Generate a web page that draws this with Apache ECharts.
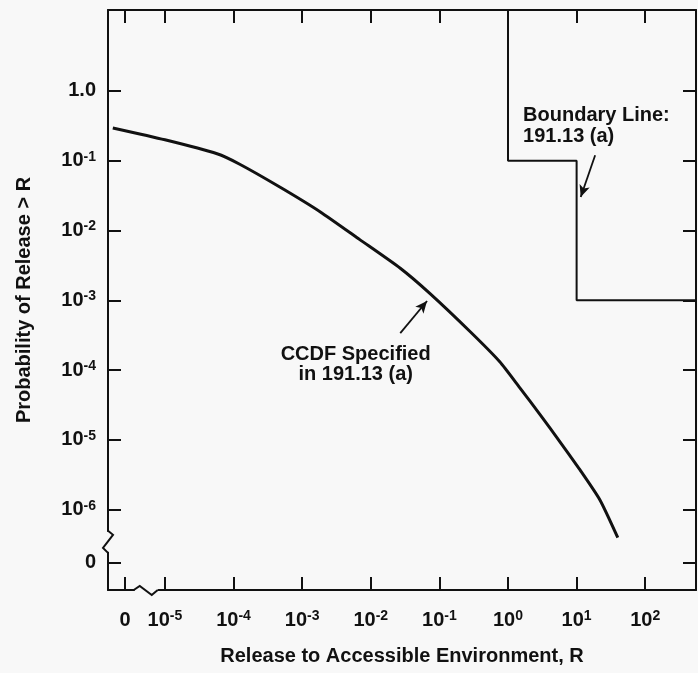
<!DOCTYPE html>
<html>
<head>
<meta charset="utf-8">
<script src="https://cdn.jsdelivr.net/npm/echarts@6/dist/echarts.min.js"></script>
<style>
  html, body { margin: 0; padding: 0; background: #f8f8f8; }
  #chart { width: 698px; height: 673px; }
</style>
</head>
<body>
<div id="chart"></div>
<script>
// CCDF curve (log10 R, log10 P)
const ccdfLogR = [-5.76, -5.00, -4.24, -3.91, -3.32, -2.74, -2.16, -1.57, -1.14, -0.55, -0.12, 0.17, 0.47, 0.76, 1.05, 1.34, 1.60]
const ccdfLogP = [-0.53, -0.70, -0.90, -1.05, -1.38, -1.73, -2.13, -2.54, -2.90, -3.45, -3.88, -4.25, -4.64, -5.03, -5.43, -5.86, -6.40]

// 191.13 (a) boundary line (real values, runs off the frame at the ends)
const boundaryR = [1, 1, 10, 10, 1000]
const boundaryP = [100, 0.1, 0.1, 0.001, 0.001]

// axes: decades shown, plus where the "0" of each broken axis sits
const xDecades = [-5, -4, -3, -2, -1, 0, 1, 2]
const yDecades = [0, -1, -2, -3, -4, -5, -6]
const xZeroPos = -5.58
const yZeroPos = -6.76
const xBreakPos = -5.28
const yBreakPos = -6.46

const xMin = -5.83, xMax = 2.74
const yMin = -7.15, yMax = 1.16

const FONT = '"Liberation Sans", Arial, sans-serif'
const INK = '#111'

const xTicks = [xZeroPos].concat(xDecades)
const yTicks = yDecades.concat([yZeroPos])

const rich = {
  n: { fontSize: 20, fontWeight: 'bold', fontFamily: FONT, color: INK, lineHeight: 22 },
  s: { fontSize: 14, fontWeight: 'bold', fontFamily: FONT, color: INK, verticalAlign: 'top', lineHeight: 14 }
}
const powLabel = v => '{n|10}{s|' + v + '}'

const lineSty = { color: INK, width: 2 }

const xAxisBase = {
  type: 'value', min: xMin, max: xMax,
  splitLine: { show: false },
  axisLine: { show: true, onZero: false, lineStyle: lineSty },
  axisTick: { show: true, inside: true, length: 13, customValues: xTicks, lineStyle: lineSty }
}
const yAxisBase = {
  type: 'value', min: yMin, max: yMax,
  splitLine: { show: false },
  axisLine: { show: true, onZero: false, lineStyle: lineSty },
  axisTick: { show: true, inside: true, length: 13, customValues: yTicks, lineStyle: lineSty }
}

const chart = echarts.init(document.getElementById('chart'))

chart.setOption({
  backgroundColor: '#f8f8f8',
  animation: false,
  grid: { left: 108, right: 2, top: 10, bottom: 83 },
  xAxis: [
    Object.assign({}, xAxisBase, {
      position: 'bottom',
      name: 'Release to Accessible Environment, R',
      nameLocation: 'middle',
      nameGap: 56,
      nameTextStyle: { fontSize: 20, fontWeight: 'bold', fontFamily: FONT, color: INK },
      axisLabel: {
        customValues: xTicks,
        margin: 19,
        formatter: v => (Math.abs(v - xZeroPos) < 1e-6 ? '{n|0}' : powLabel(v)),
        rich: rich
      }
    }),
    Object.assign({}, xAxisBase, { position: 'top', axisLabel: { show: false } })
  ],
  yAxis: [
    Object.assign({}, yAxisBase, {
      position: 'left',
      name: 'Probability of Release > R',
      nameLocation: 'middle',
      nameGap: 74,
      nameTextStyle: { fontSize: 20, fontWeight: 'bold', fontFamily: FONT, color: INK },
      axisLabel: {
        customValues: yTicks,
        margin: 12,
        formatter: v => {
          if (Math.abs(v - yZeroPos) < 1e-6) return '{n|0}'
          if (v === 0) return '{n|1.0}'
          return powLabel(v)
        },
        rich: rich
      }
    }),
    Object.assign({}, yAxisBase, { position: 'right', axisLabel: { show: false } })
  ],
  series: [
    {
      name: 'CCDF',
      type: 'line',
      showSymbol: false,
      smooth: 0.2,
      data: ccdfLogR.map((r, i) => [r, ccdfLogP[i]]),
      lineStyle: { color: INK, width: 3 },
      z: 5,
      markLine: {
        silent: true,
        symbol: ['none', 'arrow'],
        symbolSize: [8, 12],
        lineStyle: { color: INK, width: 1.8, type: 'solid' },
        label: { show: false },
        data: [
          [{ coord: [-1.57, -3.47] }, { coord: [-1.18, -3.01] }],
          [{ coord: [1.27, -0.92] }, { coord: [1.06, -1.52] }]
        ]
      },
      markPoint: {
        silent: true,
        symbol: 'circle',
        symbolSize: 0,
        itemStyle: { color: 'rgba(0,0,0,0)' },
        label: {
          show: true,
          position: [0, 0],
          verticalAlign: 'top',
          fontSize: 20,
          fontWeight: 'bold',
          fontFamily: FONT,
          color: INK,
          lineHeight: 21
        },
        data: [
          { coord: [0.22, -0.20], label: { align: 'left', formatter: 'Boundary Line:\n191.13 (a)' } },
          { coord: [-2.22, -3.63], label: { align: 'center', lineHeight: 20, formatter: 'CCDF Specified\nin 191.13 (a)' } }
        ]
      }
    },
    {
      name: 'Boundary',
      type: 'line',
      showSymbol: false,
      clip: true,
      data: boundaryR.map((r, i) => [Math.log10(r), Math.log10(boundaryP[i])]),
      lineStyle: { color: INK, width: 2 }
    },
    {
      // axis break marks
      type: 'custom',
      clip: false,
      z: 10,
      silent: true,
      data: [[xBreakPos, yMin, 0], [xMin, yBreakPos, 1]],
      renderItem: (params, api) => {
        const p = api.coord([api.value(0), api.value(1)])
        const horiz = api.value(2) === 0
        const bg = { fill: '#f8f8f8', stroke: null }
        const ln = { fill: null, stroke: INK, lineWidth: 2 }
        if (horiz) {
          return {
            type: 'group',
            children: [
              { type: 'rect', shape: { x: p[0] - 11, y: p[1] - 2, width: 23, height: 4 }, style: bg },
              { type: 'polyline', shape: { points: [[p[0] - 12, p[1]], [p[0] - 6, p[1] - 4], [p[0] + 6, p[1] + 5], [p[0] + 12, p[1]]] }, style: ln }
            ]
          }
        }
        return {
          type: 'group',
          children: [
            { type: 'rect', shape: { x: p[0] - 2, y: p[1] - 10, width: 4, height: 20 }, style: bg },
            { type: 'polyline', shape: { points: [[p[0], p[1] - 11], [p[0] + 5, p[1] - 7], [p[0] - 5, p[1] + 6], [p[0], p[1] + 11]] }, style: ln }
          ]
        }
      }
    }
  ]
})
</script>
</body>
</html>
